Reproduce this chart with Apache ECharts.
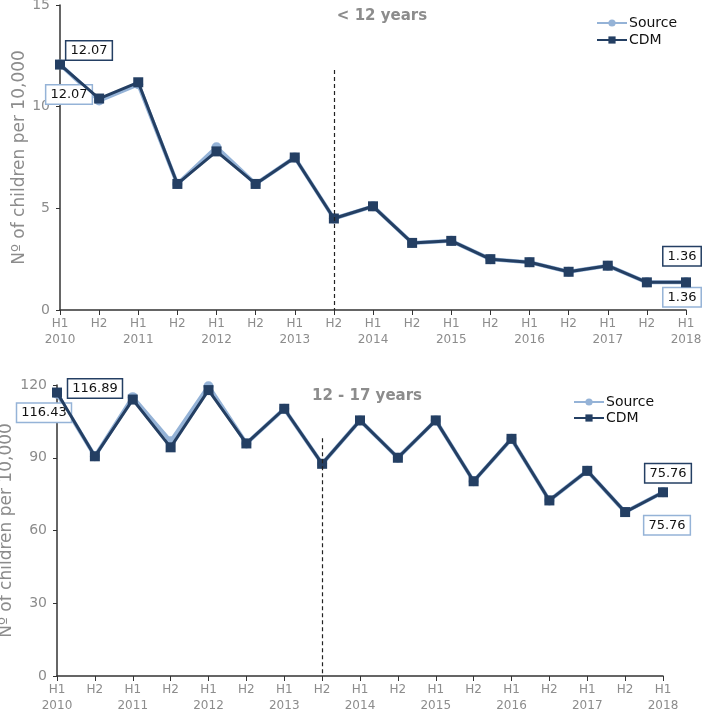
<!DOCTYPE html>
<html>
<head>
<meta charset="utf-8">
<script src="https://cdn.jsdelivr.net/npm/echarts@6/dist/echarts.min.js"></script>
<style>
html,body{margin:0;padding:0;background:#fff;}
#main{width:709px;height:712px;}
</style>
</head>
<body>
<div id="main"></div>
<script>
// categories
var halves = ['H1','H2','H1','H2','H1','H2','H1','H2','H1','H2','H1','H2','H1','H2','H1','H2','H1'];
var years = ['2010','','2011','','2012','','2013','','2014','','2015','','2016','','2017','','2018'];

// < 12 years
var source1 = [12.07, 10.3, 11.1, 6.2, 8.0, 6.2, 7.5, 4.5, 5.1, 3.3, 3.4, 2.5, 2.35, 1.88, 2.18, 1.36, 1.36];
var cdm1 = [12.07, 10.4, 11.2, 6.2, 7.8, 6.2, 7.5, 4.5, 5.1, 3.3, 3.4, 2.5, 2.35, 1.88, 2.18, 1.36, 1.36];

// 12 - 17 years
var source2 = [116.43, 90.6, 115.0, 96.8, 119.5, 95.9, 110.2, 87.5, 105.4, 90.0, 105.4, 80.3, 97.8, 72.4, 84.6, 67.6, 75.76];
var cdm2 = [116.89, 90.6, 114.0, 94.3, 117.9, 95.9, 110.2, 87.5, 105.4, 90.0, 105.4, 80.3, 97.8, 72.4, 84.6, 67.6, 75.76];

var titles = ['< 12 years', '12 - 17 years'];
var yName = 'Nº of children per 10,000';
var cutIndex = 7;          // H2 2013
var cutTop = [11.8, 98];   // top of dashed line per chart

var categories = halves.map(function(h, i){
	return years[i] ? h + '\n' + years[i] : h;
});

var FONT = 'DejaVu Sans';
var grey = '#8c8c8c';
var navy = '#243f63';
var light = '#95b3d7';

function boxLabel(border, offset){
	return {
		show: true,
		position: 'inside',
		offset: offset,
		formatter: function(p){ return p.value.toFixed(2); },
		backgroundColor: '#fff',
		borderColor: border,
		borderWidth: 1.5,
		padding: [3, 4, 2, 4],
		color: '#111',
		fontFamily: FONT,
		fontSize: 13
	};
}

function withLabels(arr, border, offFirst, offLast){
	return arr.map(function(v, i){
		if(i == 0) return {value: v, label: boxLabel(border, offFirst)};
		if(i == arr.length - 1) return {value: v, label: boxLabel(border, offLast)};
		return v;
	});
}

function xAxisFor(idx){
	return {
		gridIndex: idx,
		type: 'category',
		boundaryGap: false,
		data: categories,
		axisLine: {lineStyle: {color: '#333', width: 1.5}},
		axisTick: {show: true, length: 5, lineStyle: {color: '#333'}},
		axisLabel: {color: grey, fontFamily: FONT, fontSize: 12, lineHeight: 16, margin: 6, interval: 0},
		splitLine: {show: false}
	};
}

function yAxisFor(idx, max, interval, gap){
	return {
		gridIndex: idx,
		type: 'value',
		min: 0,
		max: max,
		interval: interval,
		name: yName,
		nameLocation: 'middle',
		nameGap: gap,
		nameMoveOverlap: false,
		nameTextStyle: {color: grey, fontFamily: FONT, fontSize: 17},
		axisLine: {show: true, lineStyle: {color: '#333', width: 1.5}},
		axisTick: {show: true, length: 4, lineStyle: {color: '#333'}},
		axisLabel: {color: grey, fontFamily: FONT, fontSize: 14, margin: 10},
		splitLine: {show: false}
	};
}

function cutLine(idx){
	return {
		silent: true,
		symbol: 'none',
		label: {show: false},
		lineStyle: {type: [4, 3], color: '#222', width: 1.2},
		data: [[{coord: [cutIndex, cutTop[idx]]}, {coord: [cutIndex, 0]}]]
	};
}

var chart = echarts.init(document.getElementById('main'));
var option = {
	animation: false,
	backgroundColor: '#fff',
	title: [
		{text: titles[0], left: 377, top: 4, textAlign: 'center',
			textStyle: {color: grey, fontFamily: FONT, fontSize: 15, fontWeight: 'bold'}},
		{text: titles[1], left: 362, top: 384, textAlign: 'center',
			textStyle: {color: grey, fontFamily: FONT, fontSize: 15, fontWeight: 'bold'}}
	],
	legend: [
		{
			data: ['Source', 'CDM'].map(function(n){ return {name: n}; }),
			left: 591, top: 11, orient: 'vertical', itemGap: 3, itemWidth: 30, itemHeight: 9,
			textStyle: {color: '#111', fontFamily: FONT, fontSize: 14, padding: [0, 0, 0, -3]}
		},
		{
			data: [{name: 'Source '}, {name: 'CDM '}],
			left: 568, top: 390, orient: 'vertical', itemGap: 2, itemWidth: 30, itemHeight: 9,
			textStyle: {color: '#111', fontFamily: FONT, fontSize: 14, padding: [0, 0, 0, -3]},
			formatter: function(n){ return n.trim(); }
		}
	],
	grid: [
		{left: 60, right: 23, top: 5, height: 305, outerBoundsMode: 'none'},
		{left: 57, right: 46, top: 385, height: 291, outerBoundsMode: 'none'}
	],
	xAxis: [xAxisFor(0), xAxisFor(1)],
	yAxis: [yAxisFor(0, 15, 5, 32), yAxisFor(1, 120, 30, 42)],
	series: [
		{
			name: 'Source', type: 'line', xAxisIndex: 0, yAxisIndex: 0,
			data: withLabels(source1, light, [9, 30], [-4, 15]),
			symbol: 'circle', symbolSize: 10,
			lineStyle: {color: light, width: 4},
			itemStyle: {color: light},
			z: 2
		},
		{
			name: 'CDM', type: 'line', xAxisIndex: 0, yAxisIndex: 0,
			data: withLabels(cdm1, navy, [29, -14], [-4, -26]),
			symbol: 'rect', symbolSize: 10,
			lineStyle: {color: navy, width: 3},
			itemStyle: {color: navy},
			markLine: cutLine(0),
			z: 3
		},
		{
			name: 'Source ', type: 'line', xAxisIndex: 1, yAxisIndex: 1,
			data: withLabels(source2, light, [-13, 19], [4, 33]),
			symbol: 'circle', symbolSize: 10,
			lineStyle: {color: light, width: 4},
			itemStyle: {color: light},
			z: 2
		},
		{
			name: 'CDM ', type: 'line', xAxisIndex: 1, yAxisIndex: 1,
			data: withLabels(cdm2, navy, [38, -4], [5, -19]),
			symbol: 'rect', symbolSize: 10,
			lineStyle: {color: navy, width: 3},
			itemStyle: {color: navy},
			markLine: cutLine(1),
			z: 3
		}
	]
};
chart.setOption(option);
</script>
</body>
</html>
